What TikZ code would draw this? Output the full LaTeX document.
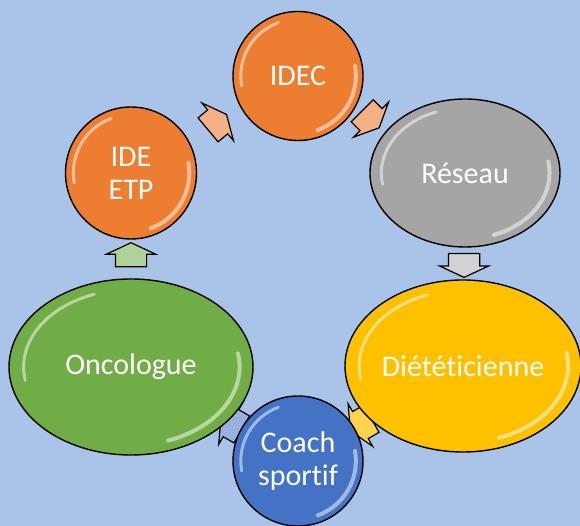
\documentclass[tikz,border=0pt]{standalone}
\usepackage{fontspec}
\setmainfont{Carlito}[Ligatures=NoCommon]
\usetikzlibrary{shapes.geometric, shapes.arrows, calc}

\definecolor{bgblue}{RGB}{169,196,232}
\definecolor{corange}{RGB}{237,125,49}
\definecolor{cgrey}{RGB}{165,165,165}
\definecolor{cyellow}{RGB}{255,192,0}
\definecolor{cgreen}{RGB}{112,173,71}
\definecolor{cblue}{RGB}{68,114,196}

\pgfdeclarelayer{bg}
\pgfdeclarelayer{flows}
\pgfsetlayers{bg,flows,main}

% white gloss on the rim of a bubble: node, x radius, y radius
\newcommand\shine[3]{%
  \draw[shine, line width=3pt] (#1.center) ++(110:{0.88*#2} and {0.88*#3})
    arc[start angle=110, end angle=190, x radius={0.88*#2}, y radius={0.88*#3}];
  \draw[shine, line width=4pt] (#1.center) ++(-70:{0.89*#2} and {0.89*#3})
    arc[start angle=-70, end angle=10, x radius={0.89*#2}, y radius={0.89*#3}];
}

\begin{document}
\begin{tikzpicture}[x=1pt, y=1pt, font=\fontsize{30}{33}\selectfont]
  \tikzstyle{bubble}=[ellipse, draw=black, line width=1.4pt, inner sep=0pt, text=white, align=center]
  \tikzstyle{flow}=[single arrow, draw=black, line width=1.2pt, inner xsep=0pt, inner ysep=15pt,
    minimum height=24pt, single arrow head extend=9pt, single arrow tip angle=130]
  \tikzstyle{shine}=[white, opacity=0.5, line cap=round]

  \useasboundingbox (0,0) rectangle (580,526);

  % Bubbles
  \node[bubble, fill=corange, minimum width=130pt, minimum height=129pt] (idec) at (298,450) {IDEC};
  \node[bubble, fill=corange, minimum width=131pt, minimum height=132pt] (etp) at (131,353) {IDE\\ETP};
  \node[bubble, fill=cgrey, minimum width=190pt, minimum height=148pt] (reseau) at (465,353) {Réseau};
  \node[bubble, fill=cyellow, minimum width=236pt, minimum height=172pt] (diet) at (463,160) {Diététicienne};
  \node[bubble, fill=cgreen, minimum width=244pt, minimum height=176pt] (onco) at (131,159) {Oncologue};
  \node[bubble, fill=cblue, minimum width=130pt, minimum height=130pt] (coach) at (298,65) {Coach\\sportif};

  \shine{idec}{65}{64.5}
  \shine{etp}{65.5}{66}
  \shine{reseau}{95}{74}
  \shine{diet}{118}{86}
  \shine{onco}{122}{88}
  \shine{coach}{65}{65}

  % Flows
  \begin{pgfonlayer}{flows}
    \node[flow, fill=corange!60!white, rotate=40] (f1) at ($(etp)!0.5!(idec)$) {};
    \node[flow, fill=corange!60!white, rotate=-45] (f2) at ($(idec)!0.42!(reseau)$) {};
    \node[flow, fill=cgrey!50!white, rotate=-90] (f3) at ($(reseau)!0.46!(diet)$) {};
    \node[flow, fill=cyellow!70!white, rotate=-150] (f4) at ($(diet)!0.6!(coach)$) {};
    \node[flow, fill=cblue!55!white, rotate=150] (f5) at ($(coach)!0.38!(onco)$) {};
    \node[flow, fill=cgreen!55!white, rotate=90] (f6) at ($(onco)!0.56!(etp)$) {};
  \end{pgfonlayer}

  \begin{pgfonlayer}{bg}
    \fill[bgblue] (0,0) rectangle (580,526);
  \end{pgfonlayer}
\end{tikzpicture}
\end{document}
